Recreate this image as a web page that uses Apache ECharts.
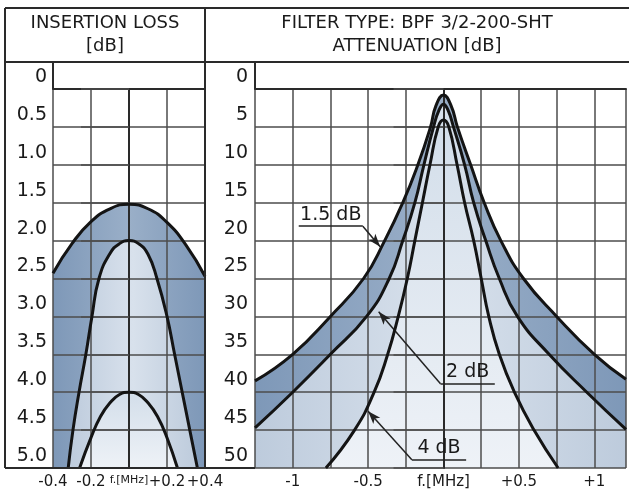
<!DOCTYPE html>
<html lang="en">
<head>
<meta charset="UTF-8">
<title>BPF 3/2-200-SHT</title>
<style>
  html, body { margin: 0; padding: 0; background: #fff; }
  #chart { width: 629px; height: 497px; }
</style>
</head>
<body>
<div id="chart"></div>
<script src="https://cdn.jsdelivr.net/npm/echarts@6/dist/echarts.min.js"></script>
<script>
// left panel: insertion loss [dB] vs f [MHz]
var ilFreqOuter = [-0.4, -0.3, -0.2, -0.1, 0, 0.1, 0.2, 0.3, 0.4];
var ilOuter = [2.43, 2.04, 1.75, 1.58, 1.52, 1.58, 1.76, 2.06, 2.47];
var ilFreqMid = [-0.32, -0.295, -0.263, -0.227, -0.195, -0.158, -0.1, -0.05, 0, 0.05, 0.1, 0.147, 0.2, 0.24, 0.28, 0.32, 0.36];
var ilMid = [5.0, 4.5, 4.0, 3.5, 3.0, 2.5, 2.17, 2.04, 2.0, 2.04, 2.18, 2.5, 3.0, 3.5, 4.0, 4.5, 5.0];
var ilFreqInner = [-0.26, -0.2, -0.15, -0.1, -0.05, 0, 0.05, 0.1, 0.15, 0.2, 0.255];
var ilInner = [5.0, 4.6, 4.32, 4.14, 4.03, 4.0, 4.03, 4.14, 4.32, 4.6, 5.0];

// right panel: attenuation [dB] vs f [MHz]
var atFreqOuter = [-1.25, -1.0, -0.75, -0.53, -0.39, -0.27, -0.17, -0.086, -0.05, 0, 0.05, 0.092, 0.18, 0.27, 0.38, 0.53, 0.75, 1.0, 1.21];
var atOuter = [38.5, 35, 30, 25, 20, 15, 10, 5, 2.2, 0.8, 2.2, 5, 10, 15, 20, 25, 30, 35, 38.3];
var atFreqMid = [-1.25, -1.0, -0.75, -0.51, -0.36, -0.27, -0.19, -0.13, -0.066, -0.03, 0, 0.03, 0.066, 0.14, 0.2, 0.28, 0.37, 0.49, 0.7, 0.95, 1.21];
var atMid = [44.7, 40, 35, 30, 25, 20, 15, 10, 5, 2.8, 2.0, 2.8, 5, 10, 15, 20, 25, 30, 35, 40, 44.9];
var atFreqInner = [-0.78, -0.59, -0.46, -0.37, -0.3, -0.24, -0.19, -0.14, -0.09, -0.035, 0, 0.035, 0.09, 0.14, 0.2, 0.25, 0.3, 0.37, 0.47, 0.6, 0.76];
var atInner = [50, 45, 40, 35, 30, 25, 20, 15, 10, 5, 4.1, 5, 10, 15, 20, 25, 30, 35, 40, 45, 50];

// curve labels: text, underline [x1, x2, y], leader from -> arrow tip
var noteText = ['1.5 dB', '2 dB', '4 dB'];
var noteLine = [[-0.96, -0.535, 18.1], [-0.02, 0.34, 38.9], [-0.21, 0.15, 48.9]];
var noteFrom = [[-0.535, 18.1], [-0.02, 38.9], [-0.21, 48.9]];
var noteTip = [[-0.42, 20.8], [-0.43, 29.4], [-0.5, 42.5]];

var FONT = 'DejaVu Sans';
var myChart = echarts.init(document.getElementById('chart'), null, { renderer: 'canvas' });

function pairs(xs, ys) {
  return xs.map(function (x, i) { return [x, ys[i]]; });
}

function hGrad(edge, mid) {
  return { type: 'linear', x: 0, y: 0, x2: 1, y2: 0,
    colorStops: [{ offset: 0, color: edge }, { offset: 0.5, color: mid }, { offset: 1, color: edge }] };
}
function vGrad(top, bottom) {
  return { type: 'linear', x: 0, y: 0, x2: 0, y2: 1,
    colorStops: [{ offset: 0, color: top }, { offset: 1, color: bottom }] };
}

var darkFill = hGrad('#7e98b8', '#9aafc8');
var midFill = hGrad('#bdcbdc', '#d8e1ec');
var innerFill = vGrad('#d3deea', '#eef2f7');

function areaSeries(idx, data, fill) {
  return {
    type: 'line', xAxisIndex: idx, yAxisIndex: idx, data: data,
    smooth: 0.5, showSymbol: false, symbol: 'none',
    lineStyle: { width: 0 }, areaStyle: { origin: 'end', color: fill, opacity: 1 },
    z: 1, silent: true
  };
}
function curveSeries(idx, data) {
  return {
    type: 'line', xAxisIndex: idx, yAxisIndex: idx, data: data,
    smooth: 0.5, showSymbol: false, symbol: 'none',
    lineStyle: { width: 3, color: '#141414' }, z: 5, silent: true
  };
}

// annotation lines in data space of the right panel
var noteData = [];
noteText.forEach(function (t, i) {
  noteData.push([
    { coord: [noteLine[i][0], noteLine[i][2]],
      label: { show: true, position: 'insideMiddleTop', formatter: t, distance: 2,
        fontFamily: FONT, fontSize: 19, color: '#1a1a1a' } },
    { coord: [noteLine[i][1], noteLine[i][2]] }
  ]);
  noteData.push([
    { coord: noteFrom[i] },
    { coord: noteTip[i], symbol: 'arrow', symbolSize: [7, 13] }
  ]);
});

var gridLine = { show: true, lineStyle: { color: '#4d4d4d', width: 1.5 } };
var frameLine = { show: true, lineStyle: { color: '#2a2a2a', width: 2 } };
var tickText = { fontFamily: FONT, fontSize: 19, color: '#1a1a1a', verticalAlign: 'bottom', lineHeight: 24 };

function signed(v) {
  if (Math.abs(v) < 1e-9) return '{s|f.[MHz]}';
  return (v > 0 ? '+' : '') + v;
}

var headFont = '18px "DejaVu Sans"';

var option = {
  backgroundColor: '#fff',
  animation: false,
  grid: [
    { left: 53, top: 89, width: 152, bottom: 29 },
    { left: 255, top: 89, right: 0, bottom: 29 }
  ],
  xAxis: [
    { type: 'value', gridIndex: 0, min: -0.4, max: 0.4, interval: 0.2, z: 3,
      axisLine: frameLine, axisTick: { show: false }, splitLine: gridLine,
      axisLabel: { margin: 7, fontFamily: FONT, fontSize: 15, color: '#1a1a1a',
        formatter: function (v) { return signed(+v.toFixed(2)); },
        rich: { s: { fontFamily: FONT, fontSize: 11, color: '#1a1a1a' } } } },
    { type: 'value', gridIndex: 1, min: -1.25, max: 1.21, interval: 0.25, z: 3,
      axisLine: frameLine, axisTick: { show: false }, splitLine: gridLine,
      axisLabel: { margin: 7, fontFamily: FONT, fontSize: 15, color: '#1a1a1a',
        formatter: function (v) {
          var r = Math.round(v * 2) / 2;
          if (Math.abs(v - r) > 1e-6) return '';
          return signed(r);
        },
        rich: { s: { fontFamily: FONT, fontSize: 15, color: '#1a1a1a' } } } }
  ],
  yAxis: [
    { type: 'value', gridIndex: 0, inverse: true, min: 0, max: 5, interval: 0.5, z: 3,
      axisLine: frameLine, splitLine: gridLine,
      axisTick: { show: true, inside: false, length: 48, lineStyle: { color: '#4d4d4d', width: 1.5 } },
      axisLabel: Object.assign({ margin: 6,
        formatter: function (v) { return v === 0 ? '0' : v.toFixed(1); } }, tickText) },
    { type: 'value', gridIndex: 1, inverse: true, min: 0, max: 50, interval: 5, z: 3,
      axisLine: frameLine, splitLine: gridLine,
      axisTick: { show: true, inside: false, length: 50, lineStyle: { color: '#4d4d4d', width: 1.5 } },
      axisLabel: Object.assign({ margin: 7 }, tickText) }
  ],
  series: [
    areaSeries(0, pairs(ilFreqOuter, ilOuter), darkFill),
    areaSeries(0, pairs(ilFreqMid, ilMid), midFill),
    areaSeries(0, pairs(ilFreqInner, ilInner), innerFill),
    curveSeries(0, pairs(ilFreqOuter, ilOuter)),
    curveSeries(0, pairs(ilFreqMid, ilMid)),
    curveSeries(0, pairs(ilFreqInner, ilInner)),
    areaSeries(1, pairs(atFreqOuter, atOuter), darkFill),
    areaSeries(1, pairs(atFreqMid, atMid), midFill),
    areaSeries(1, pairs(atFreqInner, atInner), innerFill),
    curveSeries(1, pairs(atFreqOuter, atOuter)),
    curveSeries(1, pairs(atFreqMid, atMid)),
    Object.assign(curveSeries(1, pairs(atFreqInner, atInner)), {
      markLine: {
        silent: true, animation: false, symbol: ['none', 'none'],
        lineStyle: { color: '#222', width: 1.5, type: 'solid' },
        label: { show: false },
        emphasis: { disabled: true },
        data: noteData
      }
    })
  ],
  // table frame around the two panels
  graphic: [
    { type: 'line', shape: { x1: 5, y1: 8, x2: 629, y2: 8 }, style: { stroke: '#2a2a2a', lineWidth: 2 }, z: 10 },
    { type: 'line', shape: { x1: 5, y1: 62, x2: 629, y2: 62 }, style: { stroke: '#2a2a2a', lineWidth: 2 }, z: 10 },
    { type: 'line', shape: { x1: 5, y1: 8, x2: 5, y2: 468 }, style: { stroke: '#2a2a2a', lineWidth: 2 }, z: 10 },
    { type: 'line', shape: { x1: 205, y1: 8, x2: 205, y2: 468 }, style: { stroke: '#2a2a2a', lineWidth: 2 }, z: 10 },
    { type: 'line', shape: { x1: 53, y1: 62, x2: 53, y2: 89 }, style: { stroke: '#2a2a2a', lineWidth: 2 }, z: 10 },
    { type: 'line', shape: { x1: 255, y1: 62, x2: 255, y2: 89 }, style: { stroke: '#2a2a2a', lineWidth: 2 }, z: 10 },
    { type: 'line', shape: { x1: 5, y1: 468, x2: 255, y2: 468 }, style: { stroke: '#2a2a2a', lineWidth: 2 }, z: 10 },
    { type: 'text', x: 105, y: 23, style: { text: 'INSERTION LOSS', align: 'center', verticalAlign: 'middle', font: headFont, fill: '#1a1a1a' } },
    { type: 'text', x: 105, y: 46, style: { text: '[dB]', align: 'center', verticalAlign: 'middle', font: headFont, fill: '#1a1a1a' } },
    { type: 'text', x: 417, y: 23, style: { text: 'FILTER TYPE: BPF 3/2-200-SHT', align: 'center', verticalAlign: 'middle', font: headFont, fill: '#1a1a1a' } },
    { type: 'text', x: 417, y: 46, style: { text: 'ATTENUATION [dB]', align: 'center', verticalAlign: 'middle', font: headFont, fill: '#1a1a1a' } }
  ]
};

myChart.setOption(option);
</script>
</body>
</html>
